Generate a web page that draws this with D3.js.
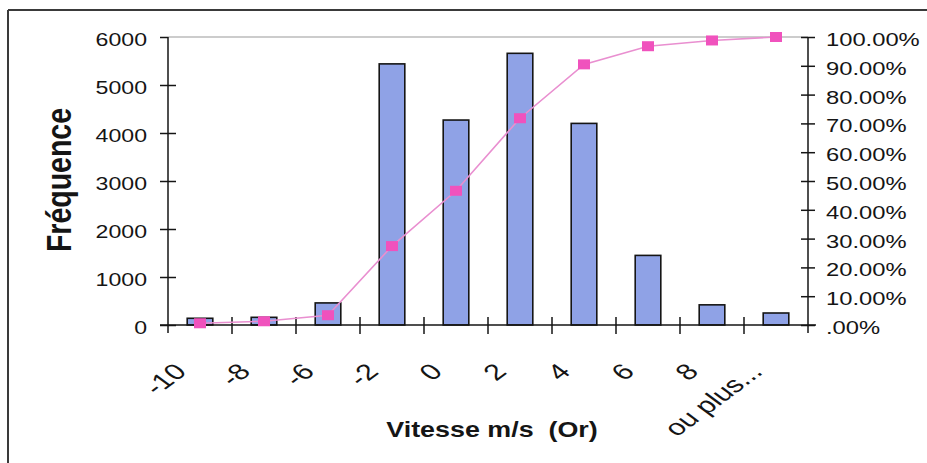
<!DOCTYPE html>
<html>
<head>
<meta charset="utf-8">
<script src="https://cdn.jsdelivr.net/npm/d3@7"></script>
<style>
  html, body { margin: 0; padding: 0; background: #fff; }
  svg { display: block; font-family: "Liberation Sans", Arial, sans-serif; }
</style>
</head>
<body>
<svg id="chart" width="927" height="463"></svg>
<script>
// Histogram of velocities with cumulative percentage (Pareto-style)
const categories = ["-10", "-8", "-6", "-2", "0", "2", "4", "6", "8", "ou plus..."];
const frequencies = [140, 160, 460, 5440, 4270, 5660, 4200, 1450, 420, 250];
const cumulativePct = [0.6, 1.3, 3.4, 27.4, 46.6, 71.8, 90.5, 96.8, 98.8, 100];
const freqTicks = [0, 1000, 2000, 3000, 4000, 5000, 6000];
const pctTicks = [0, 10, 20, 30, 40, 50, 60, 70, 80, 90, 100];
const yTitle = "Fréquence";
const xTitle = "Vitesse m/s  (Or)";

const W = 927, H = 463;
const plot = { left: 168, right: 808, top: 37, bottom: 325 };
const SX = 1.25;          // horizontal glyph stretch of the printed fonts
const INK = "#151515";

const svg = d3.select("#chart");

// outer frame (top and left edges)
svg.append("line").attr("x1", 8).attr("x2", W).attr("y1", 10).attr("y2", 10)
  .attr("stroke", "#3a3a3a").attr("stroke-width", 2);
svg.append("line").attr("x1", 8).attr("x2", 8).attr("y1", 10).attr("y2", H)
  .attr("stroke", "#3a3a3a").attr("stroke-width", 2);

const x = d3.scaleBand().domain(categories).range([plot.left, plot.right]).padding(0);
const bw = x.bandwidth();
const yL = d3.scaleLinear().domain([0, 6000]).range([plot.bottom, plot.top]);
const yR = d3.scaleLinear().domain([0, 100]).range([plot.bottom, plot.top]);

// top border of the plot area
svg.append("line")
  .attr("x1", plot.left).attr("x2", plot.right)
  .attr("y1", yL(6000)).attr("y2", yL(6000))
  .attr("stroke", "#9a9a9a").attr("stroke-width", 1.2);

// bars
svg.append("g").selectAll("rect")
  .data(categories.map((c, i) => ({ c, v: frequencies[i] })))
  .join("rect")
  .attr("x", d => x(d.c) + bw * 0.3)
  .attr("width", bw * 0.4)
  .attr("y", d => yL(d.v))
  .attr("height", d => yL(0) - yL(d.v))
  .attr("fill", "#8fa2e6")
  .attr("stroke", INK)
  .attr("stroke-width", 1.6);

// axis lines
svg.append("line").attr("x1", plot.left).attr("x2", plot.left)
  .attr("y1", plot.top).attr("y2", plot.bottom + 8).attr("stroke", INK).attr("stroke-width", 1.5);
svg.append("line").attr("x1", plot.right).attr("x2", plot.right)
  .attr("y1", plot.top).attr("y2", plot.bottom + 8).attr("stroke", INK).attr("stroke-width", 1.5);
svg.append("line").attr("x1", plot.left - 8).attr("x2", plot.right + 8)
  .attr("y1", yL(0)).attr("y2", yL(0)).attr("stroke", INK).attr("stroke-width", 1.5);

// left axis
const gL = svg.append("g")
  .attr("transform", `translate(${plot.left},0)`)
  .call(d3.axisLeft(yL).tickValues(freqTicks).tickFormat(d => String(d)).tickSize(8));
gL.select(".domain").remove();
gL.attr("font-size", null).attr("font-family", null);
gL.selectAll(".tick line")
  .attr("x1", -8).attr("x2", d => (d === 6000 ? 0 : 8))
  .attr("stroke", INK).attr("stroke-width", 1.5);
gL.selectAll(".tick text")
  .attr("x", null).attr("dy", "0.45em")
  .attr("transform", `translate(-21,0) scale(${SX},1)`)
  .attr("text-anchor", "end")
  .attr("font-size", 18.5)
  .attr("fill", INK);

// right axis
const fmtPct = p => (p === 0 ? ".00%" : p.toFixed(2) + "%");
const gR = svg.append("g")
  .attr("transform", `translate(${plot.right},0)`)
  .call(d3.axisRight(yR).tickValues(pctTicks).tickFormat(fmtPct).tickSize(7));
gR.select(".domain").remove();
gR.attr("font-size", null).attr("font-family", null);
gR.selectAll(".tick line")
  .attr("x1", -7).attr("x2", 7)
  .attr("stroke", INK).attr("stroke-width", 1.5);
gR.selectAll(".tick text")
  .attr("x", null).attr("dy", "0.45em")
  .attr("transform", `translate(18,0) scale(${SX},1)`)
  .attr("text-anchor", "start")
  .attr("font-size", 19)
  .attr("fill", INK);

// category boundary ticks on the x axis
const bounds = categories.slice(1).map(c => x(c));
svg.append("g").selectAll("line")
  .data(bounds)
  .join("line")
  .attr("x1", d => d).attr("x2", d => d)
  .attr("y1", yL(0) - 8).attr("y2", yL(0) + 9)
  .attr("stroke", INK).attr("stroke-width", 1.5);

// rotated category labels
svg.append("g").selectAll("text")
  .data(categories)
  .join("text")
  .attr("transform", d => `translate(${x(d) + bw / 2 - 12},${yL(0) + 48}) scale(1.35,1) rotate(-45)`)
  .attr("text-anchor", "end")
  .attr("font-size", 22.5)
  .attr("fill", INK)
  .text(d => d);

// cumulative percentage line and markers
const line = d3.line()
  .x((d, i) => x(categories[i]) + bw / 2)
  .y(d => yR(d));
svg.append("path")
  .datum(cumulativePct)
  .attr("d", line)
  .attr("fill", "none")
  .attr("stroke", "#e98fd0")
  .attr("stroke-width", 1.6);
svg.append("g").selectAll("rect")
  .data(cumulativePct)
  .join("rect")
  .attr("x", (d, i) => x(categories[i]) + bw / 2 - 6)
  .attr("y", d => yR(d) - 5)
  .attr("width", 12)
  .attr("height", 10)
  .attr("fill", "#f052bd");

// axis titles
svg.append("text")
  .attr("transform", `translate(71,180) scale(${SX},1) rotate(-90)`)
  .attr("text-anchor", "middle")
  .attr("font-size", 28.5)
  .attr("font-weight", "bold")
  .attr("fill", INK)
  .text(yTitle);
svg.append("text")
  .attr("transform", `translate(492,437) scale(${SX},1)`)
  .attr("text-anchor", "middle")
  .attr("font-size", 21.5)
  .attr("font-weight", "bold")
  .attr("fill", INK)
  .style("white-space", "pre")
  .text(xTitle);
</script>
</body>
</html>
